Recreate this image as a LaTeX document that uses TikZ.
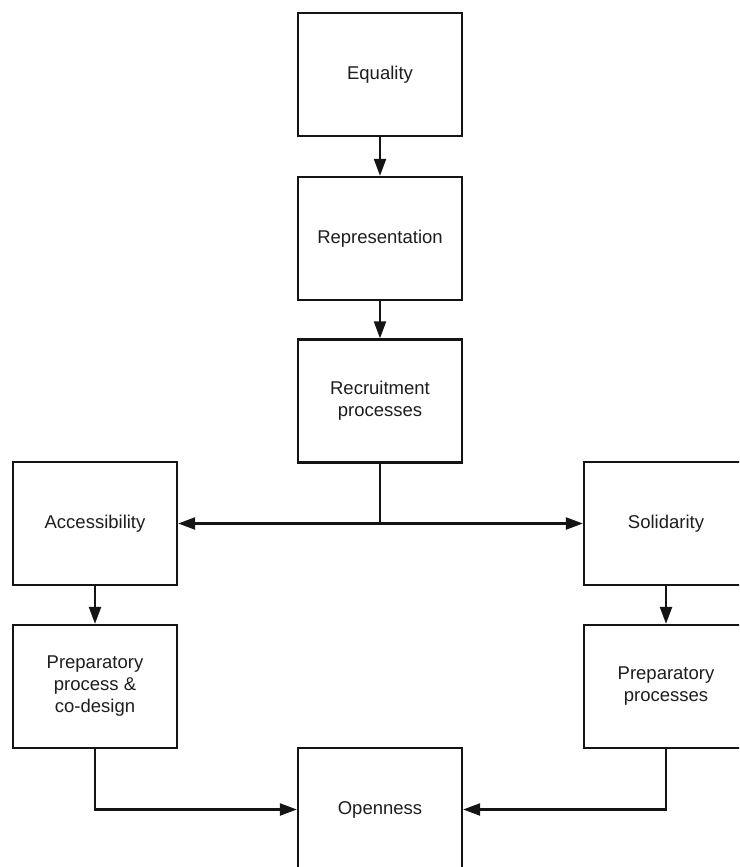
\documentclass[tikz,border=0pt]{standalone}
\usepackage{fontspec}
\setmainfont{Liberation Sans}
\usetikzlibrary{arrows.meta}
\definecolor{ink}{HTML}{141414}
\definecolor{txt}{HTML}{1E1E1E}
\tikzset{
  box/.style={draw=ink, line width=2.3pt, fill=white, minimum width=164pt,
    minimum height=123pt, align=center, text=txt,
    font=\fontsize{18.5pt}{22pt}\selectfont},
  link/.style={draw=ink, line width=2.3pt},
  arr/.style={link, -{Triangle[length=17pt,width=12pt]}}
}
\begin{document}
\begin{tikzpicture}[x=1pt,y=-1pt]
  \useasboundingbox (0,0) rectangle (739,867);
  \clip (0,0) rectangle (739,867);
  \fill[white] (0,0) rectangle (739,867);

  % boxes
  \node[box] (eq)   at (380,74.5)  {Equality};
  \node[box] (rep)  at (380,238.5) {Representation};
  \node[box] (rec)  at (380,401)   {Recruitment\\processes};
  \node[box] (acc)  at (95,523.5)  {Accessibility};
  \node[box] (sol)  at (666,523.5) {Solidarity};
  \node[box] (ppl)  at (95,686.5)  {Preparatory\\process \&\\co-design};
  \node[box] (ppr)  at (666,686.5) {Preparatory\\processes};
  \node[box] (open) at (380,809.5) {Openness};

  % vertical chain
  \draw[arr] (eq.south) -- (rep.north);
  \draw[arr] (rep.south) -- (rec.north);

  % split from recruitment to both sides
  \coordinate (split) at (rec.south |- acc.east);
  \draw[link] (rec.south) -- (split);
  \draw[arr] (split) -- (acc.east);
  \draw[arr] (split) -- (sol.west);

  % side branches
  \draw[arr] (acc.south) -- (ppl.north);
  \draw[arr] (sol.south) -- (ppr.north);

  % merge into openness
  \draw[arr] (ppl.south) |- (open.west);
  \draw[arr] (ppr.south) |- (open.east);
\end{tikzpicture}
\end{document}
